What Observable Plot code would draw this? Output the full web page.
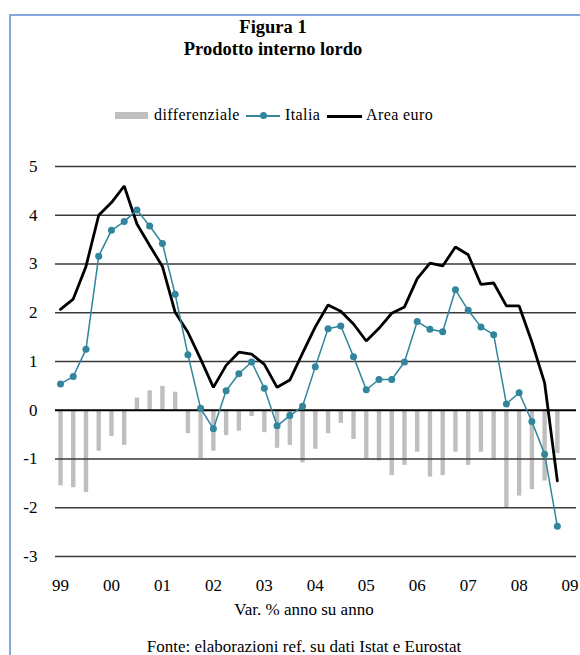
<!DOCTYPE html>
<html>
<head>
<meta charset="utf-8">
<script src="https://cdn.jsdelivr.net/npm/d3@7"></script>
<script src="https://cdn.jsdelivr.net/npm/@observablehq/plot@0.6"></script>
<style>
  html, body { margin: 0; padding: 0; background: #fff; overflow: hidden; }
  body { width: 580px; height: 655px; position: relative; font-family: "Liberation Serif", "DejaVu Serif", serif; color: #000; }
  .frame { position: absolute; left: 9px; top: 14px; width: 800px; height: 800px; border-left: 2px solid #86a8d8; border-top: 2px solid #86a8d8; }
  .t { position: absolute; white-space: nowrap; line-height: 1; }
  .title { left: 0; width: 546px; text-align: center; font-weight: bold; font-size: 18.5px; }
  .leg { font-size: 16px; letter-spacing: 0.4px; }
  .sw { position: absolute; }
  #chart { position: absolute; left: 0; top: 150px; }
  .cap { left: 0; width: 608px; text-align: center; font-size: 17px; }
</style>
</head>
<body>
<div class="frame"></div>
<div class="t title" style="top:18px">Figura 1</div>
<div class="t title" style="top:40px">Prodotto interno lordo</div>

<div class="sw" style="left:115px; top:112px; width:33px; height:7px; background:#bfbfbf;"></div>
<div class="t leg" style="left:154px; top:107px;">differenziale</div>
<div class="sw" style="left:246px; top:115px; width:34px; height:1.5px; background:#31859c;"></div>
<div class="sw" style="left:259.5px; top:112.3px; width:7px; height:7px; border-radius:50%; background:#31859c;"></div>
<div class="t leg" style="left:285px; top:107px;">Italia</div>
<div class="sw" style="left:327px; top:114.5px; width:35px; height:3px; background:#000;"></div>
<div class="t leg" style="left:366px; top:107px;">Area euro</div>

<div id="chart"></div>

<div class="t cap" style="top:601px">Var. % anno su anno</div>
<div class="t cap" style="top:638px">Fonte: elaborazioni ref. su dati Istat e Eurostat</div>

<script>
// Year labels on the x axis (one every 4 quarters, 1999 Q1 .. 2009 Q1)
const yearLabels = ["99", "00", "01", "02", "03", "04", "05", "06", "07", "08", "09"];
// Y axis ticks
const yTicks = [-3, -2, -1, 0, 1, 2, 3, 4, 5];
// Quarterly series, 1999 Q1 .. 2008 Q4 (var. % anno su anno)
const italia = [0.54, 0.69, 1.25, 3.16, 3.69, 3.87, 4.11, 3.78, 3.42, 2.38,
                1.14, 0.04, -0.38, 0.40, 0.75, 0.99, 0.45, -0.32, -0.11, 0.08,
                0.89, 1.67, 1.73, 1.10, 0.42, 0.63, 0.63, 0.99, 1.82, 1.66,
                1.61, 2.47, 2.05, 1.71, 1.55, 0.13, 0.36, -0.23, -0.90, -2.38];
const areaEuro = [2.07, 2.28, 2.95, 4.00, 4.26, 4.60, 3.82, 3.38, 2.95, 2.01,
                  1.60, 1.05, 0.47, 0.92, 1.19, 1.15, 0.94, 0.47, 0.62, 1.17,
                  1.71, 2.16, 2.03, 1.77, 1.42, 1.68, 1.99, 2.12, 2.70, 3.02,
                  2.96, 3.35, 3.19, 2.58, 2.61, 2.14, 2.14, 1.40, 0.56, -1.45];
const differenziale = [-1.55, -1.59, -1.69, -0.84, -0.54, -0.72, 0.25, 0.40, 0.49, 0.37,
                       -0.48, -0.99, -0.84, -0.52, -0.43, -0.13, -0.46, -0.78, -0.72, -1.08,
                       -0.80, -0.48, -0.27, -0.60, -1.00, -1.04, -1.34, -1.13, -0.86, -1.37,
                       -1.34, -0.86, -1.13, -0.86, -1.03, -2.01, -1.76, -1.63, -1.45, -0.89];

const data = italia.map((v, i) => ({q: i, italia: v, euro: areaEuro[i], diff: differenziale[i]}));
const xTicks = yearLabels.map((_, i) => i * 4);

const chart = Plot.plot({
  width: 580,
  height: 450,
  marginLeft: 55,
  marginRight: 4,
  marginTop: 16,
  marginBottom: 44,
  style: {fontFamily: "Liberation Serif, serif", fontSize: "17px", color: "#000", background: "transparent"},
  x: {domain: [0, 40], range: [60, 569.6]},
  y: {domain: [-3, 5], range: [406, 16]},
  marks: [
    Plot.ruleX(data, {x: "q", y1: 0, y2: "diff", stroke: "#bfbfbf", strokeWidth: 4.4}),
    Plot.ruleY(yTicks.filter(d => d !== 0), {stroke: "#3a3a3a", strokeWidth: 1.4}),
    Plot.ruleY([0], {stroke: "#000", strokeWidth: 2.2}),
    Plot.axisY({ticks: yTicks, tickSize: 0, tickPadding: 18, tickFormat: d => String(d), fontSize: 17, label: null}),
    Plot.axisX({ticks: xTicks, tickSize: 0, tickPadding: 22, tickFormat: d => yearLabels[d / 4], fontSize: 17, label: null}),
    Plot.line(data, {x: "q", y: "euro", stroke: "#000", strokeWidth: 2.8, strokeLinejoin: "miter"}),
    Plot.line(data, {x: "q", y: "italia", stroke: "#31859c", strokeWidth: 1.5}),
    Plot.dot(data, {x: "q", y: "italia", fill: "#31859c", r: 3.5})
  ]
});
document.getElementById("chart").appendChild(chart);
</script>
</body>
</html>
